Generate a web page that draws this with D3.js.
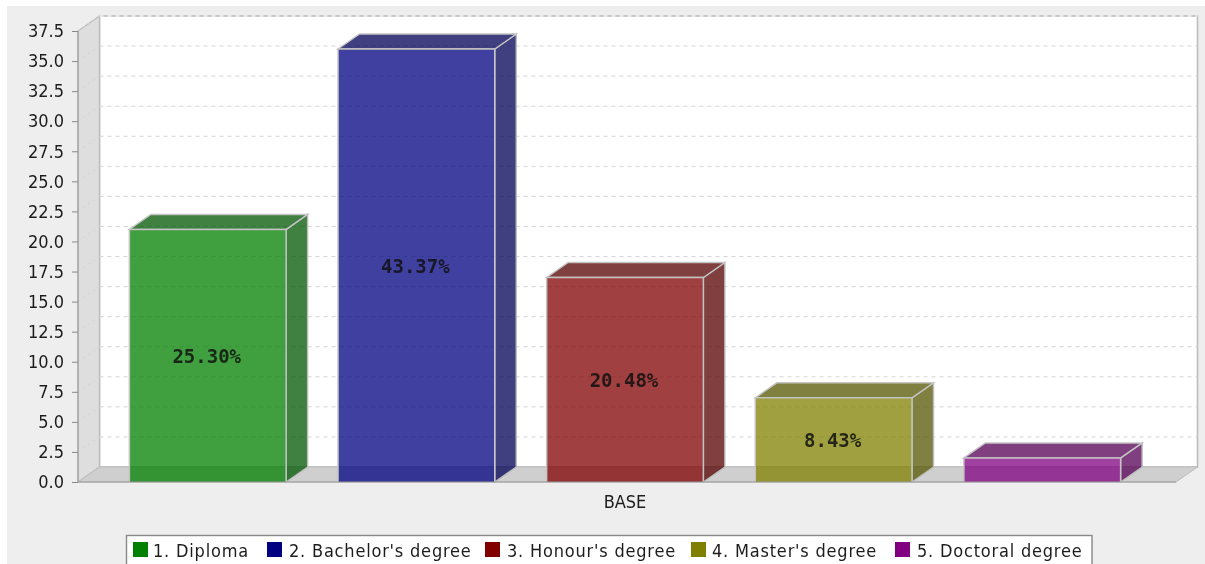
<!DOCTYPE html>
<html><head><meta charset="utf-8">
<script src="https://cdnjs.cloudflare.com/ajax/libs/d3/7.8.5/d3.min.js"></script>
<style>html,body{margin:0;padding:0;background:#fff;overflow:hidden}svg{display:block;filter:blur(0.5px)}</style>
</head><body><svg id="c" width="1205" height="564"></svg>
<script>
const categories=["1. Diploma","2. Bachelor's degree","3. Honour's degree","4. Master's degree","5. Doctoral degree"];
const seriesValues=[21,36,17,7,2];
const percentLabels=["25.30%","43.37%","20.48%","8.43%",""];
const baseColors=["#008000","#000080","#800000","#808000","#800080"];
const sideColors=["#005500","#000055","#550000","#555500","#550055"];
const tickValues=d3.range(0,38,2.5);
const xLabel="BASE";

const depthX=21.5,depthY=15,barAlpha=0.75;
const labelFont="'DejaVu Sans Condensed','DejaVu Sans'";
const svg=d3.select("#c");
svg.append("rect").attr("x",7).attr("y",6).attr("width",1198).attr("height",558).attr("fill","#eeeeee");

const y=d3.scaleLinear().domain([0,37.5]).range([482,31]);
const x=d3.scaleBand().domain(categories).range([77.5,1172.5]).paddingInner(0.2487).paddingOuter(0.2487);
const L=78,R=1176;
const gridC="#d4d4d4",edge="#bdbdbd";

// back wall
svg.append("rect").attr("x",L+depthX).attr("y",y(37.5)-depthY).attr("width",R-L).attr("height",y(0)-y(37.5)).attr("fill","#fff").attr("stroke",edge).attr("stroke-width",1.6);
// left wall
svg.append("path").attr("d",d3.line()([[L,y(37.5)],[L+depthX,y(37.5)-depthY],[L+depthX,y(0)-depthY],[L,y(0)]])+"Z").attr("fill","#dedede").attr("stroke",edge).attr("stroke-width",1.4);
// floor
svg.append("path").attr("d",d3.line()([[L,y(0)],[L+depthX,y(0)-depthY],[R+depthX,y(0)-depthY],[R,y(0)]])+"Z").attr("fill","#cfcfcf").attr("stroke",edge);

// gridlines
const g=svg.append("g");
tickValues.filter(d=>d>0).forEach(d=>{
  g.append("line").attr("x1",L).attr("x2",L+depthX).attr("y1",y(d)).attr("y2",y(d)-depthY).attr("stroke","#d2d2d2").attr("stroke-dasharray","3 3").attr("stroke-width",.8);
  g.append("line").attr("x1",L+depthX).attr("x2",R+depthX).attr("y1",y(d)-depthY).attr("y2",y(d)-depthY).attr("stroke",gridC).attr("stroke-dasharray","4 4").attr("stroke-width",1);
});
g.append("line").attr("x1",L+depthX).attr("x2",R+depthX).attr("y1",y(37.5)-depthY).attr("y2",y(37.5)-depthY).attr("stroke","#fff").attr("stroke-dasharray","4 4").attr("stroke-width",1);

// bars
const bars=svg.append("g").selectAll("g").data(categories).join("g");
bars.each(function(c,i){
  const s=d3.select(this),x0=x(c),x1=x0+x.bandwidth(),yt=y(seriesValues[i]),yb=y(0);
  const line=d3.line();
  s.append("path").attr("d",line([[x1,yb],[x1+depthX,yb-depthY],[x1+depthX,yt-depthY],[x1,yt]])+"Z").attr("fill",sideColors[i]).attr("fill-opacity",barAlpha).attr("stroke",edge).attr("stroke-width",1.4);
  s.append("path").attr("d",line([[x0,yt],[x0+depthX,yt-depthY],[x1+depthX,yt-depthY],[x1,yt]])+"Z").attr("fill",sideColors[i]).attr("fill-opacity",barAlpha).attr("stroke","#c4c4c4").attr("stroke-width",1.4);
  s.append("rect").attr("x",x0).attr("y",yt).attr("width",x.bandwidth()).attr("height",yb-yt).attr("fill",baseColors[i]).attr("fill-opacity",barAlpha);
  s.append("path").attr("d",line([[x0,yb],[x0,yt],[x1,yt],[x1,yb]])).attr("fill","none").attr("stroke","#c4c4c4").attr("stroke-width",1.5);
  if(percentLabels[i]) s.append("text").attr("x",(x0+x1)/2-1).attr("y",(yt+yb)/2+7.5).attr("text-anchor","middle")
    .attr("font-family","'DejaVu Sans Mono'").attr("font-weight","bold").attr("font-size",19).attr("fill","#111").attr("fill-opacity",.85).text(percentLabels[i]);
});

// y axis
const yAxis=d3.axisLeft(y).tickValues(tickValues).tickFormat(d3.format(".1f")).tickSize(6).tickPadding(8);
const ag=svg.append("g").attr("transform",`translate(${L},0)`).call(yAxis);
ag.select(".domain").attr("stroke","#999").attr("d",`M0,${y(37.5)}V${y(0)}`);
ag.selectAll(".tick line").attr("stroke","#888");
ag.selectAll("text").attr("font-family",labelFont).attr("font-size",18).attr("fill","#1c1c1c");
svg.append("line").attr("x1",L).attr("x2",R).attr("y1",y(0)).attr("y2",y(0)).attr("stroke","#999");
svg.append("text").attr("x",625).attr("y",508).attr("text-anchor","middle").attr("font-family",labelFont).attr("font-size",18).attr("fill","#1c1c1c").text(xLabel);

// legend
const leg=svg.append("g");
leg.append("rect").attr("x",126.5).attr("y",535.5).attr("width",965.5).attr("height",40).attr("fill","#fff").attr("stroke","#888").attr("stroke-width",1.4);
const swatchX=[133,267,485,691,895], textX=[153,289,507,712,917];
categories.forEach((c,i)=>{
  leg.append("rect").attr("x",swatchX[i]).attr("y",542).attr("width",15).attr("height",15).attr("fill",baseColors[i]);
  leg.append("text").attr("x",textX[i]).attr("y",557).attr("font-family",labelFont).attr("letter-spacing","0.8").attr("font-size",18).attr("fill","#1c1c1c").text(c);
});
</script></body></html>
